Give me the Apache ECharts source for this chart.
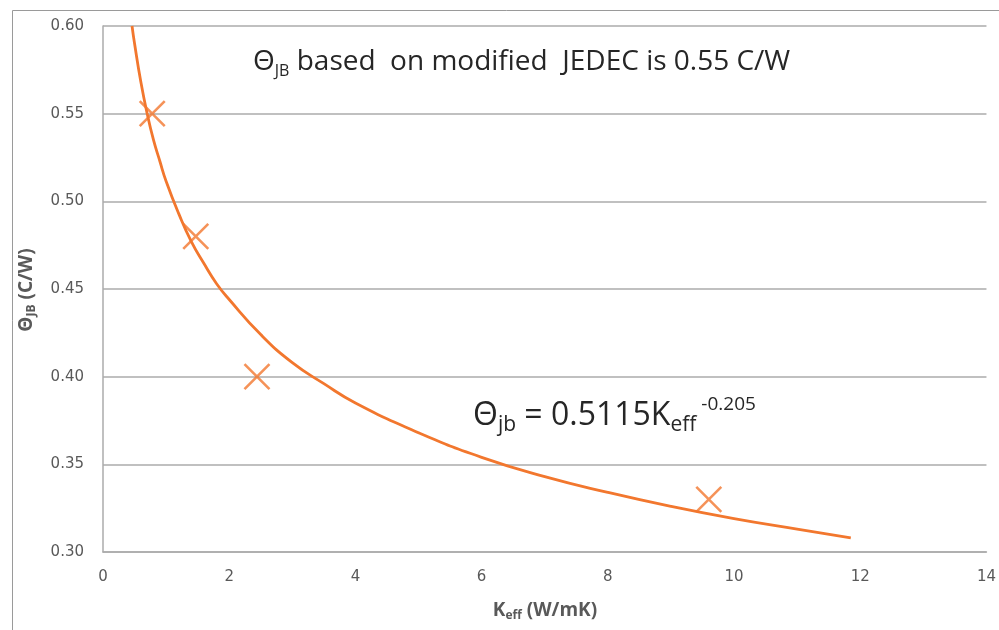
<!DOCTYPE html>
<html>
<head>
<meta charset="utf-8">
<script src="https://cdn.jsdelivr.net/npm/echarts@6/dist/echarts.min.js"></script>
<style>
  html, body { margin: 0; padding: 0; background: #fff; }
  #chart { width: 999px; height: 630px; }
</style>
</head>
<body>
<div id="chart"></div>
<script>
// measured points (Keff, theta_jb)
const measuredK = [0.78, 1.47, 2.44, 9.6];
const measuredTheta = [0.55, 0.48, 0.40, 0.33];

// power trendline
const trendK = [0.46, 0.5, 0.6, 0.7, 0.8, 0.9, 1.0, 1.2, 1.4, 1.6, 1.8, 2.0, 2.5, 3, 3.5, 4, 5, 6, 7, 8, 9, 10, 11, 11.85];
const trendTheta = [0.600, 0.590, 0.568, 0.550, 0.535, 0.523, 0.5115, 0.493, 0.477, 0.4645, 0.453, 0.444, 0.424, 0.408, 0.396, 0.385, 0.368, 0.354, 0.343, 0.334, 0.326, 0.319, 0.313, 0.308];

const xTicks = [0, 2, 4, 6, 8, 10, 12, 14];
const yTicks = [0.30, 0.35, 0.40, 0.45, 0.50, 0.55, 0.60];

const orange = '#F2772E';
const gridGray = '#ABABAB';
const labelGray = '#595959';
const textFont = '"Open Sans", sans-serif';
const tickFont = '"DejaVu Sans", sans-serif';

const chart = echarts.init(document.getElementById('chart'));

chart.setOption({
  animation: false,
  backgroundColor: '#fff',
  grid: {
    left: 103,
    right: 12,
    top: 26,
    bottom: 78
  },
  xAxis: {
    type: 'value',
    min: xTicks[0],
    max: xTicks[xTicks.length - 1],
    interval: 2,
    axisLine: { lineStyle: { color: gridGray, width: 1.5 } },
    axisTick: { show: false },
    splitLine: { show: false },
    axisLabel: {
      color: labelGray,
      fontFamily: tickFont,
      fontSize: 15,
      margin: 18
    }
  },
  yAxis: {
    type: 'value',
    min: yTicks[0],
    max: yTicks[yTicks.length - 1],
    interval: 0.05,
    axisLine: { show: true, lineStyle: { color: gridGray, width: 1.5 } },
    axisTick: { show: false },
    splitLine: { lineStyle: { color: gridGray, width: 1.5 } },
    axisLabel: {
      color: labelGray,
      fontFamily: tickFont,
      fontSize: 15,
      margin: 19,
      formatter: (v) => v.toFixed(2)
    }
  },
  series: [
    {
      type: 'line',
      data: trendK.map((k, i) => [k, trendTheta[i]]),
      smooth: true,
      showSymbol: false,
      clip: true,
      lineStyle: { color: orange, width: 2.8 },
      z: 2
    },
    {
      type: 'scatter',
      data: measuredK.map((k, i) => [k, measuredTheta[i]]),
      symbol: 'path://M0,0L10,10M10,0L0,10',
      symbolSize: 25,
      itemStyle: { color: 'rgba(0,0,0,0)', borderColor: orange, borderWidth: 2.6 },
      z: 3
    }
  ],
  graphic: [
    {
      type: 'rect',
      left: 10,
      top: 8,
      shape: { width: 1100, height: 700 },
      style: { fill: 'none', stroke: '#9A9A9A', lineWidth: 1 },
      silent: true,
      z: -1
    },
    {
      type: 'text',
      left: 253,
      top: 45,
      style: {
        text: '{a|Θ}{sub|JB}{a| based  on modified  JEDEC is 0.55 C/W}',
        fontFamily: textFont,
        rich: {
          a: { fontSize: 28, lineHeight: 36, fontFamily: textFont, fill: '#262626' },
          sub: { fontSize: 16, lineHeight: 36, padding: [18, 0, 0, 0], fontFamily: textFont, fill: '#262626' }
        }
      }
    },
    {
      type: 'text',
      left: 473,
      top: 395,
      style: {
        text: '{a|Θ}{sub|jb}{a| = 0.5115K}{sub|eff}{sup| -0.205}',
        fontFamily: textFont,
        rich: {
          a: { fontSize: 32, lineHeight: 42, fontFamily: textFont, fill: '#262626' },
          sub: { fontSize: 21, lineHeight: 42, padding: [20, 0, 0, 0], fontFamily: textFont, fill: '#262626' },
          sup: { fontSize: 19, lineHeight: 42, padding: [0, 0, 22, 0], fontFamily: textFont, fill: '#262626' }
        }
      }
    },
    {
      type: 'text',
      x: 545,
      y: 611,
      style: {
        text: '{a|K}{sub|eff}{a| (W/mK)}',
        align: 'center',
        verticalAlign: 'middle',
        fontFamily: textFont,
        rich: {
          a: { fontSize: 19, fontWeight: 'bold', lineHeight: 24, fontFamily: textFont, fill: labelGray },
          sub: { fontSize: 12, fontWeight: 'bold', lineHeight: 24, padding: [10, 0, 0, 0], fontFamily: textFont, fill: labelGray }
        }
      }
    },
    {
      type: 'text',
      x: 27,
      y: 290,
      rotation: Math.PI / 2,
      style: {
        text: '{a|Θ}{sub|JB}{a| (C/W)}',
        align: 'center',
        verticalAlign: 'middle',
        fontFamily: textFont,
        rich: {
          a: { fontSize: 19, fontWeight: 'bold', lineHeight: 24, fontFamily: textFont, fill: labelGray },
          sub: { fontSize: 12, fontWeight: 'bold', lineHeight: 24, padding: [10, 0, 0, 0], fontFamily: textFont, fill: labelGray }
        }
      }
    }
  ]
});
</script>
</body>
</html>
